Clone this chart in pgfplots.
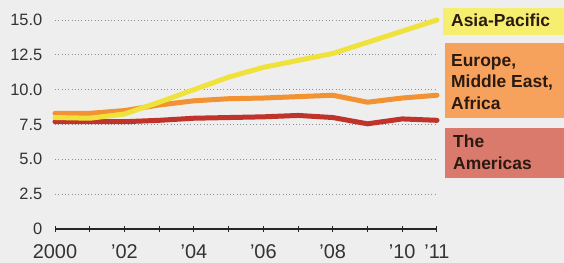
\documentclass[border=0pt]{standalone}
\usepackage{pgfplots}
\pgfplotsset{compat=1.18}
\usepackage{fontspec}
\setmainfont{Liberation Sans}
\definecolor{bg}{HTML}{EEEEEE}
\definecolor{apline}{HTML}{F0E23C}
\definecolor{euline}{HTML}{F29233}
\definecolor{amline}{HTML}{C0332B}
\definecolor{apbox}{HTML}{F6EE6E}
\definecolor{eubox}{HTML}{F7A25C}
\definecolor{ambox}{HTML}{D97A6C}
\definecolor{txt}{HTML}{2A1A12}
\definecolor{gridc}{HTML}{8A8F98}
\begin{document}
\begin{tikzpicture}
\fill[bg] (-55bp,-34bp) rectangle (509bp,229bp);
\useasboundingbox (-55bp,-34bp) rectangle (509bp,229bp);
\begin{axis}[
  at={(0,0)}, anchor=south west,
  scale only axis, width=382bp, height=209bp,
  xmin=2000, xmax=2011, ymin=0, ymax=15,
  clip=false,
  axis x line*=bottom, axis y line*=left,
  y axis line style={draw=none},
  x axis line style={black!85, line width=1.1bp},
  xtick={2000,...,2011},
  xticklabels={2000,{},'02,{},'04,{},'06,{},'08,{},'10,'11},
  ytick={0,2.5,5,7.5,10,12.5,15},
  yticklabels={0,2.5,5.0,7.5,10.0,12.5,15.0},
  /pgf/number format/assume math mode=true,
  xtick style={black!85, line width=1bp},
  major tick length=5bp, tick align=center,
  ytick style={draw=none},
  ymajorgrids,
  grid style={gridc, line width=0.9bp, dash pattern=on 0.9bp off 2.4bp},
  xticklabel style={font=\fontsize{20}{20}\selectfont, text=black!80, anchor=north, inner sep=0pt, yshift=-13bp},
  yticklabel style={font=\fontsize{16.5}{16.5}\selectfont, text=black!80, anchor=east, inner sep=0pt, xshift=-10bp},
  every axis plot/.append style={line width=5bp, line join=round, line cap=round},
]
\addplot[amline] coordinates {(2000,7.7) (2001,7.7) (2002,7.7) (2003,7.8) (2004,7.95) (2005,8.0) (2006,8.05) (2007,8.15) (2008,8.0) (2009,7.55) (2010,7.9) (2011,7.8)};
\addplot[euline] coordinates {(2000,8.3) (2001,8.3) (2002,8.5) (2003,8.9) (2004,9.2) (2005,9.35) (2006,9.4) (2007,9.5) (2008,9.6) (2009,9.1) (2010,9.4) (2011,9.6)};
\addplot[apline] coordinates {(2000,8.0) (2001,7.95) (2002,8.25) (2003,9.1) (2004,10.0) (2005,10.9) (2006,11.6) (2007,12.1) (2008,12.6) (2009,13.4) (2010,14.2) (2011,15.0)};
\end{axis}
\fill[apbox] (388bp,194bp) rectangle (509bp,221bp);
\fill[eubox] (390bp,111bp) rectangle (509bp,186bp);
\fill[ambox] (390bp,51bp) rectangle (509bp,101bp);
\begin{scope}[every node/.style={anchor=base west, inner sep=0pt, text=txt, font=\fontsize{17.5}{17.5}\selectfont\bfseries}]
\node at (396bp,202bp) {Asia-Pacific};
\node at (396bp,162bp) {Europe,};
\node at (396bp,141bp) {Middle East,};
\node at (396bp,119bp) {Africa};
\node at (398bp,81bp) {The};
\node at (398bp,59bp) {Americas};
\end{scope}
\end{tikzpicture}
\end{document}
